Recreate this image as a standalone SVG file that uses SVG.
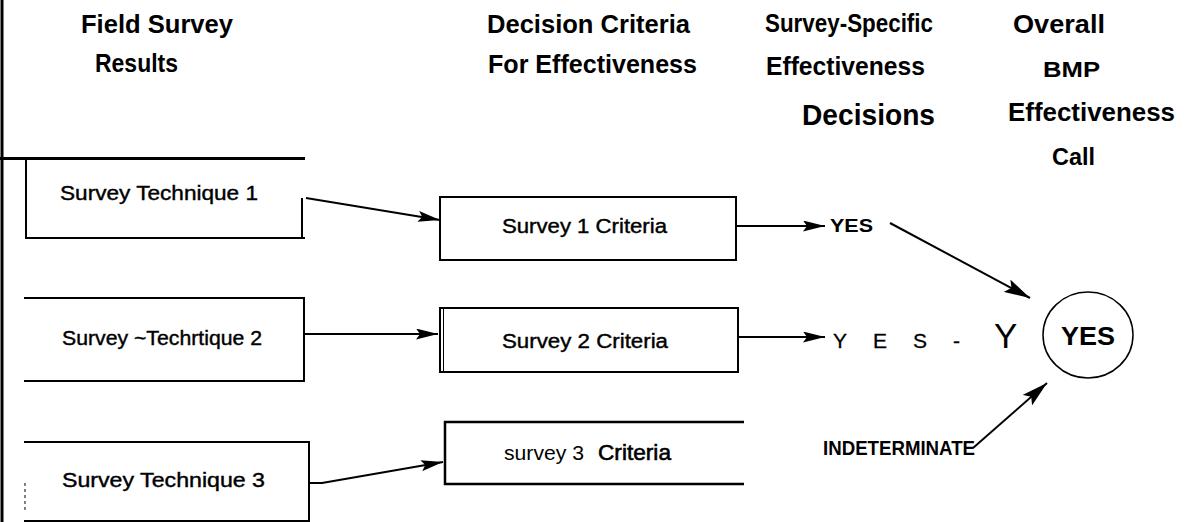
<svg xmlns="http://www.w3.org/2000/svg" width="1184" height="522" viewBox="0 0 1184 522">
<style>
.hd{font-family:"Liberation Sans",Arial,sans-serif;font-weight:bold;font-size:25px;fill:#000}
.bx{fill:#fff;stroke:#000;stroke-width:2}
.bt{font-family:"Liberation Sans",Arial,sans-serif;font-size:20px;fill:#000;stroke:#000;stroke-width:0.4}
.ln{stroke:#000;stroke-width:2;fill:none}
.lab{font-family:"Liberation Sans",Arial,sans-serif;fill:#000}
</style>
<defs>
<marker id="ah" viewBox="0 0 22 11" refX="22" refY="5.5" markerWidth="22" markerHeight="11" markerUnits="userSpaceOnUse" orient="auto">
<path d="M0,0 L22,5.5 L0,11 L4,5.5 z" fill="#000"/>
</marker>
<marker id="ahb" viewBox="0 0 26 14" refX="26" refY="7" markerWidth="26" markerHeight="14" markerUnits="userSpaceOnUse" orient="auto">
<path d="M0,0 L26,7 L0,14 L5,7 z" fill="#000"/>
</marker>
</defs>
<rect width="1184" height="522" fill="#fff"/>
<g id="frame">
<line x1="2" y1="0" x2="2" y2="522" stroke="#000" stroke-width="3"/>
<line x1="0" y1="158.5" x2="305" y2="158.5" stroke="#000" stroke-width="3"/>
</g>
<g id="headers">
<text class="hd" x="81" y="33" textLength="152" lengthAdjust="spacingAndGlyphs">Field   Survey</text>
<text class="hd" x="95" y="72" textLength="83" lengthAdjust="spacingAndGlyphs">Results</text>
<text class="hd" x="487" y="33" textLength="203" lengthAdjust="spacingAndGlyphs">Decision    Criteria</text>
<text class="hd" x="488" y="73" textLength="209" lengthAdjust="spacingAndGlyphs">For Effectiveness</text>
<text class="hd" x="765" y="32" textLength="168" lengthAdjust="spacingAndGlyphs">Survey-Specific</text>
<text class="hd" x="766" y="75" textLength="159" lengthAdjust="spacingAndGlyphs">Effectiveness</text>
<text class="hd" x="802" y="125" style="font-size:29px" textLength="133" lengthAdjust="spacingAndGlyphs">Decisions</text>
<text class="hd" x="1013" y="33" textLength="92" lengthAdjust="spacingAndGlyphs">Overall</text>
<text class="hd" x="1043" y="77" style="font-size:22px" textLength="57" lengthAdjust="spacingAndGlyphs">BMP</text>
<text class="hd" x="1008" y="121" textLength="167" lengthAdjust="spacingAndGlyphs">Effectiveness</text>
<text class="hd" x="1052" y="165" style="font-size:23px" textLength="43" lengthAdjust="spacingAndGlyphs">Call</text>
</g>
<g id="tech1">
<path class="ln" d="M26,159 V238 H305 M302,238 V198"/>
<text class="bt" x="60" y="200" textLength="198" lengthAdjust="spacingAndGlyphs">Survey  Technique  1</text>
</g>
<g id="tech2">
<path class="ln" d="M24,298 H304 V381 H24"/>
<text class="bt" x="62" y="345" textLength="200" lengthAdjust="spacingAndGlyphs">Survey ~Techrtique 2</text>
</g>
<g id="tech3">
<path class="ln" d="M24,442 H309 V521 H24"/>
<line x1="25" y1="483" x2="25" y2="510" stroke="#000" stroke-width="1" stroke-dasharray="3,3"/>
<text class="bt" x="62" y="487" textLength="203" lengthAdjust="spacingAndGlyphs">Survey  Technique  3</text>
</g>
<g id="crit1">
<rect class="bx" x="440" y="197" width="296" height="63"/>
<text class="bt" x="502" y="233" textLength="165" lengthAdjust="spacingAndGlyphs">Survey  1 Criteria</text>
</g>
<g id="crit2">
<rect class="bx" x="440" y="308" width="298" height="64"/>
<line x1="443.5" y1="308" x2="443.5" y2="372" stroke="#000" stroke-width="1"/>
<text class="bt" x="502" y="348" textLength="166" lengthAdjust="spacingAndGlyphs">Survey 2 Criteria</text>
</g>
<g id="crit3">
<path d="M744,422 H445 V484 H744" fill="none" stroke="#000" stroke-width="2.5"/>
<text class="bt" x="504" y="460" textLength="80" lengthAdjust="spacingAndGlyphs" style="stroke-width:0">survey 3</text>
<text class="bt" x="598" y="460" textLength="73" lengthAdjust="spacingAndGlyphs" style="font-size:22px;stroke-width:0.6">Criteria</text>
</g>
<g id="decisions">
<text class="lab" x="830" y="232" font-size="19" font-weight="bold" textLength="43" lengthAdjust="spacingAndGlyphs">YES</text>
<text class="lab" x="833" y="348" font-size="21" textLength="127" lengthAdjust="spacing" stroke="#000" stroke-width="0.3">YES-</text>
<text class="lab" x="994" y="348" font-size="35">Y</text>
<text class="lab" x="823" y="455" font-size="21" font-weight="bold" textLength="152" lengthAdjust="spacingAndGlyphs">INDETERMINATE</text>
</g>
<g id="overall">
<ellipse cx="1088" cy="335" rx="45" ry="43" fill="#fff" stroke="#000" stroke-width="1.5"/>
<text class="lab" x="1088" y="345" font-size="25" font-weight="bold" text-anchor="middle" textLength="54" lengthAdjust="spacingAndGlyphs">YES</text>
</g>
<g id="connectors">
<line class="ln" x1="306" y1="198" x2="440" y2="220" marker-end="url(#ah)"/>
<line class="ln" x1="305" y1="334" x2="438" y2="334" marker-end="url(#ah)"/>
<path class="ln" d="M309,483 H322 L443,462" marker-end="url(#ah)"/>
<line class="ln" x1="737" y1="226" x2="825" y2="226" marker-end="url(#ah)"/>
<line class="ln" x1="738" y1="337" x2="825" y2="337" marker-end="url(#ah)"/>
<line class="ln" x1="890" y1="223" x2="1030" y2="298" marker-end="url(#ahb)"/>
<line class="ln" x1="973" y1="448" x2="1047" y2="383" marker-end="url(#ahb)"/>
</g>
</svg>
